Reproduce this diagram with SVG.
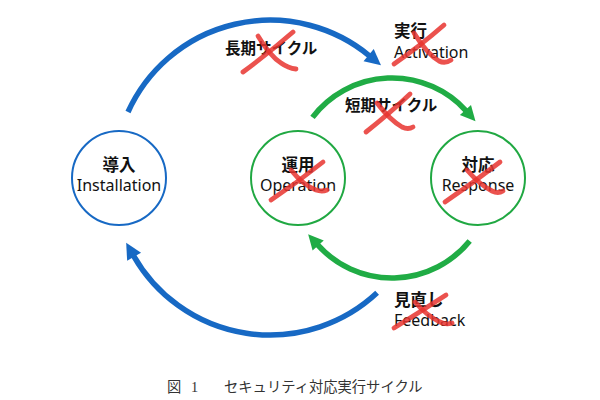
<svg xmlns="http://www.w3.org/2000/svg" width="600" height="400" viewBox="0 0 600 400">
<style>
.cb{fill:#fff;stroke:#1769c4;stroke-width:2}
.cg{fill:#fff;stroke:#20a842;stroke-width:2}
.jp{font-family:"Noto Sans CJK JP","Noto Sans",sans-serif;font-weight:bold;font-size:16.5px;fill:#111}
.en{font-family:"Noto Sans","Noto Sans CJK JP",sans-serif;font-size:16px;fill:#111}
.lb{font-family:"Noto Sans CJK JP",sans-serif;font-weight:bold;font-size:15.5px;fill:#111}
.cap{font-family:"Liberation Serif","Noto Sans CJK JP",serif;font-size:14.3px;fill:#333}
.ab{fill:none;stroke:#1769c4;stroke-width:5.5}
.ag{fill:none;stroke:#20ac45;stroke-width:5.5}
.x{fill:none;stroke:#e8342f;stroke-opacity:0.85;stroke-width:4.8;stroke-linecap:round;stroke-linejoin:round}
</style>
<defs>
<marker id="hb" markerUnits="userSpaceOnUse" orient="auto" refX="0" refY="0" markerWidth="16" markerHeight="16" overflow="visible"><path d="M-1,-8 L15,0 L-1,8 z" fill="#1769c4"/></marker>
<marker id="hg" markerUnits="userSpaceOnUse" orient="auto" refX="0" refY="0" markerWidth="16" markerHeight="16" overflow="visible"><path d="M-1,-7.5 L14,0 L-1,7.5 z" fill="#20ac45"/></marker>
</defs>
<rect width="600" height="400" fill="#fff"/>
<g id="connectors">
<path class="ab" d="M128,112 A156,156 0 0,1 369.4,55.8" marker-end="url(#hb)"/>
<path class="ab" d="M377.1,292.8 A157,157 0 0,1 133.6,255.8" marker-end="url(#hb)"/>
<path class="ag" d="M312.5,117.4 A100,100 0 0,1 466.1,110.8" marker-end="url(#hg)"/>
<path class="ag" d="M469.7,240.9 A100,100 0 0,1 317.5,244.7" marker-end="url(#hg)"/>
</g>
<g id="installation">
<circle class="cb" cx="119" cy="178" r="47"/>
<text class="jp" x="119" y="171" text-anchor="middle">導入</text>
<text class="en" x="119" y="191" text-anchor="middle">Installation</text>
</g>
<g id="operation">
<circle class="cg" cx="298" cy="178" r="47"/>
<text class="jp" x="298" y="171" text-anchor="middle">運用</text>
<text class="en" x="298" y="191" text-anchor="middle">Operation</text>
</g>
<g id="response">
<circle class="cg" cx="478" cy="178" r="47"/>
<text class="jp" x="478" y="171" text-anchor="middle">対応</text>
<text class="en" x="478" y="191" text-anchor="middle">Response</text>
</g>
<g id="labels">
<text class="lb" x="225" y="54">長期サイクル</text>
<text class="jp" x="394" y="37">実行</text>
<text class="en" x="394" y="58">Activation</text>
<text class="lb" x="345" y="111">短期サイクル</text>
<text class="jp" x="394" y="306">見直し</text>
<text class="en" x="394" y="326">Feedback</text>
</g>
<g id="caption">
<text class="cap" x="167" y="392">図</text>
<text class="cap" x="191" y="392">1</text>
<text class="cap" x="224" y="392">セキュリティ対応実行サイクル</text>
</g>
<g id="marks">
<path class="x" d="M293,32 Q270,52 243,72"/>
<path class="x" d="M258,36 Q270,56 281,63 Q288,68 296,69"/>
<path class="x" d="M444,25 Q420,46 394,64"/>
<path class="x" d="M414,33 Q427,54 439,61 Q445,64 451,60"/>
<path class="x" d="M410,94 Q390,113 366,132"/>
<path class="x" d="M377,103 Q390,120 402,127 Q408,130 413,127"/>
<path class="x" d="M323,162 Q298,182 271,200"/>
<path class="x" d="M291,170 Q303,185 316,190 Q322,192 327,190"/>
<path class="x" d="M500,162 Q473,183 445,202"/>
<path class="x" d="M467,170 Q480,185 492,191 Q498,194 503,191"/>
<path class="x" d="M446,295 Q420,312 394,328"/>
<path class="x" d="M415,302 Q427,316 440,322 Q446,325 452,323"/>
</g>
</svg>
